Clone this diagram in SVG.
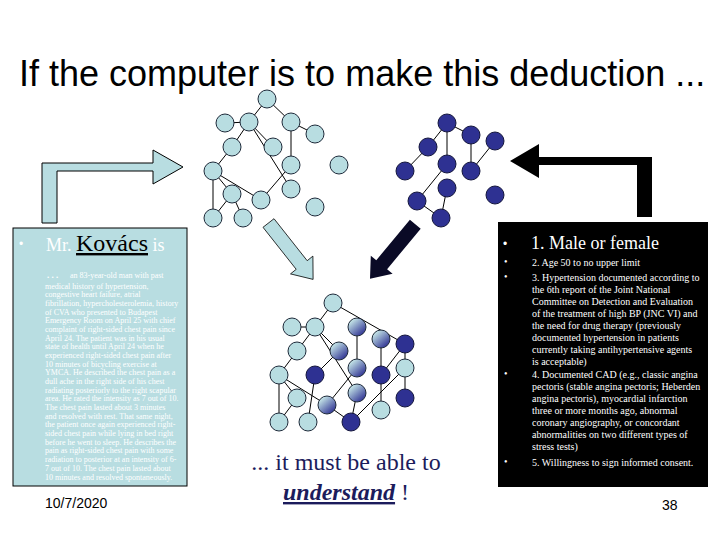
<svg xmlns="http://www.w3.org/2000/svg" width="720" height="540" viewBox="0 0 720 540">
<defs>
<linearGradient id="grad" x1="0.2" y1="0.15" x2="0.85" y2="0.9">
<stop offset="0" stop-color="#c2e2e6"/>
<stop offset="1" stop-color="#2e3192"/>
</linearGradient>
</defs>
<style>
.lt{fill:#b8dde1;stroke:#1e2a3a;stroke-width:1}
.dk{fill:#2e3192;stroke:#14163c;stroke-width:1}
.gr{fill:url(#grad);stroke:#1e2a3a;stroke-width:1}
.ed line{stroke:#000;stroke-width:1}
.sm{font-family:'Liberation Serif',serif;font-size:8px;fill:#fff}
.rt{font-family:'Liberation Serif',serif;font-size:10px;fill:#fff}
.bl{font-family:'Liberation Sans',sans-serif;fill:#fff}
</style>
<rect width="720" height="540" fill="#fff"/>
<text x="19" y="86" font-family="'Liberation Sans',sans-serif" font-size="36" fill="#000">If the computer is to make this deduction ...</text>

<g id="arrow-left">
<path d="M42,223 L42,163 L153,163 L153,150 L183,167 L153,184 L153,171 L57,171 L57,223 Z" fill="#b8dde1" stroke="#000" stroke-width="1"/>
</g>
<g id="arrow-right">
<path d="M510,161 L539,144 L539,157 L652,157 L652,217 L637,217 L637,165 L539,165 L539,178 Z" fill="#000"/>
</g>
<g id="arrow-diag-light">
<path d="M263,227.3 L274,218.7 L307.2,260.7 L312.9,256.1 L313.1,279.4 L290.5,273.9 L296.2,269.3 Z" fill="#b8dde1" stroke="#000" stroke-width="0.8"/>
</g>
<g id="arrow-diag-dark">
<path d="M409.9,219.7 L420.7,228.7 L387.1,269.2 L392.6,273.7 L370,278.8 L370.8,255.7 L376.3,260.2 Z" fill="#0a0a26"/>
</g>

<g id="connectors" class="ed">
<!-- left network -->
<line x1="267" y1="99" x2="249" y2="122"/>
<line x1="267" y1="99" x2="291" y2="122"/>
<line x1="225" y1="123" x2="249" y2="122"/>
<line x1="291" y1="122" x2="315" y2="134"/>
<line x1="291" y1="122" x2="291" y2="165"/>
<line x1="249" y1="122" x2="232" y2="147"/>
<line x1="249" y1="122" x2="273" y2="147"/>
<line x1="249" y1="122" x2="291" y2="189"/>
<line x1="232" y1="147" x2="213" y2="171"/>
<line x1="213" y1="171" x2="232" y2="194"/>
<line x1="213" y1="171" x2="261" y2="200"/>
<line x1="213" y1="171" x2="213" y2="218"/>
<line x1="232" y1="194" x2="213" y2="218"/>
<line x1="232" y1="194" x2="243" y2="218"/>
<line x1="261" y1="200" x2="291" y2="165"/>
<!-- right network -->
<line x1="447" y1="123" x2="428" y2="147"/>
<line x1="447" y1="123" x2="471" y2="135"/>
<line x1="447" y1="123" x2="447" y2="164"/>
<line x1="471" y1="135" x2="471" y2="171"/>
<line x1="495" y1="141" x2="471" y2="171"/>
<line x1="428" y1="147" x2="405" y2="171"/>
<line x1="447" y1="164" x2="417" y2="201"/>
<line x1="447" y1="188" x2="441" y2="218"/>
<line x1="417" y1="201" x2="441" y2="218"/>
<!-- merged network -->
<line x1="333" y1="303" x2="315" y2="327"/>
<line x1="333" y1="303" x2="405" y2="344"/>
<line x1="292" y1="327" x2="315" y2="327"/>
<line x1="315" y1="327" x2="297" y2="351"/>
<line x1="315" y1="327" x2="339" y2="351"/>
<line x1="315" y1="327" x2="357" y2="393"/>
<line x1="357" y1="327" x2="357" y2="368"/>
<line x1="381" y1="339" x2="381" y2="375"/>
<line x1="405" y1="344" x2="381" y2="375"/>
<line x1="405" y1="344" x2="405" y2="368"/>
<line x1="405" y1="368" x2="405" y2="398"/>
<line x1="405" y1="368" x2="351" y2="422"/>
<line x1="381" y1="375" x2="381" y2="410"/>
<line x1="339" y1="351" x2="315" y2="375"/>
<line x1="297" y1="351" x2="279" y2="375"/>
<line x1="279" y1="375" x2="297" y2="398"/>
<line x1="279" y1="375" x2="327" y2="405"/>
<line x1="279" y1="375" x2="279" y2="422"/>
<line x1="297" y1="398" x2="279" y2="422"/>
<line x1="315" y1="375" x2="308" y2="422"/>
<line x1="357" y1="368" x2="327" y2="405"/>
<line x1="357" y1="393" x2="351" y2="422"/>
<line x1="327" y1="405" x2="351" y2="422"/>
</g>

<g id="left-network">
<circle id="L1" class="lt" cx="267" cy="99" r="9"/>
<circle id="L2" class="lt" cx="225" cy="123" r="9"/>
<circle id="L3" class="lt" cx="249" cy="122" r="9"/>
<circle id="L4" class="lt" cx="291" cy="122" r="9"/>
<circle id="L5" class="lt" cx="315" cy="134" r="9"/>
<circle id="L6" class="lt" cx="232" cy="147" r="9"/>
<circle id="L7" class="lt" cx="273" cy="147" r="9"/>
<circle id="L8" class="lt" cx="291" cy="165" r="9"/>
<circle id="L9" class="lt" cx="339" cy="165" r="9"/>
<circle id="L10" class="lt" cx="213" cy="171" r="9"/>
<circle id="L11" class="lt" cx="232" cy="194" r="9"/>
<circle id="L12" class="lt" cx="261" cy="200" r="9"/>
<circle id="L13" class="lt" cx="291" cy="189" r="9"/>
<circle id="L14" class="lt" cx="315" cy="207" r="9"/>
<circle id="L15" class="lt" cx="213" cy="218" r="9"/>
<circle id="L16" class="lt" cx="243" cy="218" r="9"/>
</g>
<g id="right-network">
<circle id="R1" class="dk" cx="447" cy="123" r="9"/>
<circle id="R2" class="dk" cx="471" cy="135" r="9"/>
<circle id="R3" class="dk" cx="495" cy="141" r="9"/>
<circle id="R4" class="dk" cx="428" cy="147" r="9"/>
<circle id="R5" class="dk" cx="447" cy="164" r="9"/>
<circle id="R6" class="dk" cx="471" cy="171" r="9"/>
<circle id="R7" class="dk" cx="405" cy="171" r="9"/>
<circle id="R8" class="dk" cx="447" cy="188" r="9"/>
<circle id="R9" class="dk" cx="495" cy="195" r="9"/>
<circle id="R10" class="dk" cx="417" cy="201" r="9"/>
<circle id="R11" class="dk" cx="441" cy="218" r="9"/>
</g>
<g id="merged-network">
<circle id="M1" class="lt" cx="333" cy="303" r="9"/>
<circle id="M2" class="lt" cx="292" cy="327" r="9"/>
<circle id="M3" class="lt" cx="315" cy="327" r="9"/>
<circle id="M4" class="gr" cx="357" cy="327" r="9"/>
<circle id="M5" class="gr" cx="381" cy="339" r="9"/>
<circle id="M6" class="lt" cx="297" cy="351" r="9"/>
<circle id="M7" class="gr" cx="339" cy="351" r="9"/>
<circle id="M8" class="gr" cx="357" cy="368" r="9"/>
<circle id="M9" class="dk" cx="405" cy="344" r="9"/>
<circle id="M10" class="lt" cx="279" cy="375" r="9"/>
<circle id="M11" class="dk" cx="315" cy="375" r="9"/>
<circle id="M12" class="dk" cx="381" cy="375" r="9"/>
<circle id="M13" class="lt" cx="405" cy="368" r="9"/>
<circle id="M14" class="lt" cx="297" cy="398" r="9"/>
<circle id="M15" class="gr" cx="327" cy="405" r="9"/>
<circle id="M16" class="gr" cx="357" cy="393" r="9"/>
<circle id="M17" class="dk" cx="405" cy="398" r="9"/>
<circle id="M18" class="lt" cx="381" cy="410" r="9"/>
<circle id="M19" class="lt" cx="279" cy="422" r="9"/>
<circle id="M20" class="lt" cx="308" cy="422" r="9"/>
<circle id="M21" class="dk" cx="351" cy="422" r="9"/>
</g>

<g id="case-box">
<rect x="13" y="228" width="174" height="258" fill="#b8dde1" stroke="#000" stroke-width="1"/>
<text class="bl" x="19" y="248" font-size="12">•</text>
<text x="46" y="251" font-family="'Liberation Serif',serif" font-size="18" fill="#fff">Mr. <tspan fill="#000" font-size="24" text-decoration="underline">Kovács</tspan> is</text>
<text class="sm" y="278"><tspan x="47" font-weight="bold" font-size="9">. . .</tspan><tspan x="70">an 83-year-old man with past</tspan></text>
<text class="sm">
<tspan x="45" y="288.5">medical history of hypertension,</tspan>
<tspan x="45" y="297.2">congestive heart failure, atrial</tspan>
<tspan x="45" y="305.9">fibrillation, hypercholesterolemia, history</tspan>
<tspan x="45" y="314.5">of CVA who presented to Budapest</tspan>
<tspan x="45" y="323.2">Emergency Room on April 25 with chief</tspan>
<tspan x="45" y="331.9">complaint of right-sided chest pain since</tspan>
<tspan x="45" y="340.6">April 24. The patient was in his usual</tspan>
<tspan x="45" y="349.3">state of health until April 24 when he</tspan>
<tspan x="45" y="357.9">experienced right-sided chest pain after</tspan>
<tspan x="45" y="366.6">10 minutes of bicycling exercise at</tspan>
<tspan x="45" y="375.3">YMCA. He described the chest pain as a</tspan>
<tspan x="45" y="384">dull ache in the right side of his chest</tspan>
<tspan x="45" y="392.7">radiating posteriorly to the right scapular</tspan>
<tspan x="45" y="401.3">area. He rated the intensity as 7 out of 10.</tspan>
<tspan x="45" y="410">The chest pain lasted about 3 minutes</tspan>
<tspan x="45" y="418.7">and resolved with rest. That same night,</tspan>
<tspan x="45" y="427.4">the patient once again experienced right-</tspan>
<tspan x="45" y="436.1">sided chest pain while lying in bed right</tspan>
<tspan x="45" y="444.7">before he went to sleep. He describes the</tspan>
<tspan x="45" y="453.4">pain as right-sided chest pain with some</tspan>
<tspan x="45" y="462.1">radiation to posterior at an intensity of 6-</tspan>
<tspan x="45" y="470.8">7 out of 10. The chest pain lasted about</tspan>
<tspan x="45" y="479.5">10 minutes and resolved spontaneously.</tspan>
</text>
</g>

<g id="criteria-box">
<rect x="498" y="222" width="210" height="265" fill="#000"/>
<text class="bl" x="503" y="248" font-size="12">•</text>
<text x="531" y="249" font-family="'Liberation Serif',serif" font-size="18" fill="#fff">1. Male or female</text>
<g class="rt" font-size="7">
<text x="504" y="265">•</text>
<text x="504" y="280">•</text>
<text x="504" y="377">•</text>
<text x="504" y="465">•</text>
</g>
<text class="rt">
<tspan x="532" y="266">2. Age 50 to no upper limit</tspan>
<tspan x="532" y="281">3. Hypertension documented according to</tspan>
<tspan x="532" y="293">the 6th report of the Joint National</tspan>
<tspan x="532" y="305">Committee on Detection and Evaluation</tspan>
<tspan x="532" y="317">of the treatment of high BP (JNC VI) and</tspan>
<tspan x="532" y="329">the need for drug therapy (previously</tspan>
<tspan x="532" y="341">documented hypertension in patients</tspan>
<tspan x="532" y="353">currently taking antihypertensive agents</tspan>
<tspan x="532" y="365">is acceptable)</tspan>
<tspan x="532" y="378">4. Documented CAD (e.g., classic angina</tspan>
<tspan x="532" y="390">pectoris (stable angina pectoris; Heberden</tspan>
<tspan x="532" y="402">angina pectoris), myocardial infarction</tspan>
<tspan x="532" y="414">three or more months ago, abnormal</tspan>
<tspan x="532" y="426">coronary angiography, or concordant</tspan>
<tspan x="532" y="438">abnormalities on two different types of</tspan>
<tspan x="532" y="450">stress tests)</tspan>
<tspan x="532" y="466">5. Willingness to sign informed consent.</tspan>
</text>
</g>

<g id="conclusion" font-family="'Liberation Serif',serif" font-size="24" fill="#1c1c5c">
<text x="346" y="470" text-anchor="middle">... it must be able to</text>
<text x="283" y="500"><tspan font-weight="bold" font-style="italic" text-decoration="underline">understand</tspan> !</text>
</g>

<text x="45" y="508" font-family="'Liberation Sans',sans-serif" font-size="14" fill="#000">10/7/2020</text>
<text x="662" y="510" font-family="'Liberation Sans',sans-serif" font-size="14" fill="#000">38</text>
</svg>
